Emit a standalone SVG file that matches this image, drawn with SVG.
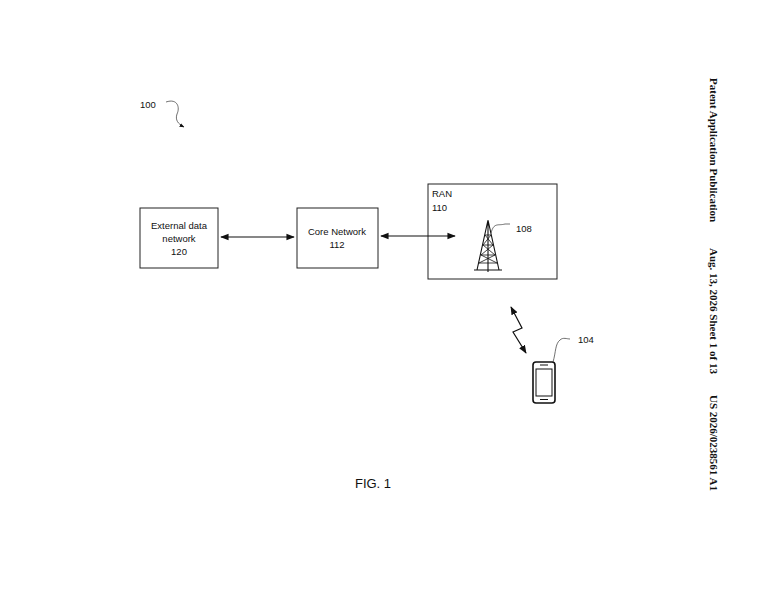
<svg xmlns="http://www.w3.org/2000/svg" width="774" height="600" viewBox="0 0 774 600">
<style>
.b{fill:#fff;stroke:#222;stroke-width:1}
.t{font-family:"Liberation Sans",Arial,sans-serif;font-size:9.5px;fill:#111}
.c{fill:none;stroke:#111;stroke-width:1.2}
.h{font-family:"Liberation Serif","Times New Roman",serif;font-size:11px;font-weight:bold;fill:#111}
.th{fill:none;stroke:#333;stroke-width:0.7}
</style>
<defs>
<marker id="a" viewBox="0 0 10 10" refX="9" refY="5" markerWidth="7" markerHeight="7" orient="auto-start-reverse"><path d="M0,1 L10,5 L0,9 z" fill="#111"/></marker>
</defs>
<rect width="774" height="600" fill="#fff"/>
<g id="label100">
<text class="t" x="140" y="108">100</text>
<path class="th" d="M166,102 C178,98 180,108 177,114 C175,120 178,124 184,127" marker-end="url(#a)"/>
</g>
<g id="ext"><rect class="b" x="140" y="208" width="78" height="60"/>
<text class="t" x="179" y="229" text-anchor="middle">External data</text>
<text class="t" x="179" y="242" text-anchor="middle">network</text>
<text class="t" x="179" y="255" text-anchor="middle">120</text></g>
<g id="core"><rect class="b" x="297" y="208" width="81" height="60"/>
<text class="t" x="337" y="235" text-anchor="middle">Core Network</text>
<text class="t" x="337" y="248" text-anchor="middle">112</text></g>
<g id="ran"><rect class="b" x="428" y="184" width="129" height="95"/>
<text class="t" x="432" y="197">RAN</text>
<text class="t" x="432" y="211">110</text></g>
<g id="tower" stroke="#111" stroke-width="1.1" fill="none">
<path d="M488,220 L488,272 M488,220 L477,270 M488,220 L499,270 M474,270 L502,270"/>
<path d="M485,235 L491,235 M483,245 L493,245 M481,255 L495,255 M479,263 L497,263 M485,235 L493,245 L481,255 L497,263 M491,235 L483,245 L495,255 L479,263" stroke-width="0.8"/>
<path class="th" d="M491,233 C494,222 498,226 505,224 L510,224"/>
<text class="t" x="516" y="232" stroke="none" fill="#111">108</text>
</g>
<g id="phone">
<rect x="533" y="362" width="22" height="41" rx="3" fill="#fff" stroke="#111" stroke-width="1.6"/>
<rect x="536" y="369" width="16" height="27" fill="#fff" stroke="#111" stroke-width="1"/>
<path d="M540,365 L548,365 M540,399.5 L548,399.5" stroke="#111" stroke-width="1"/>
<path class="th" d="M553,362 C556,352 555,344 560,340 C563,337 567,339 570,339"/>
<text class="t" x="578" y="343">104</text>
</g>
<g id="connectors">
<line class="c" x1="221" y1="237" x2="294" y2="237" marker-start="url(#a)" marker-end="url(#a)"/>
<line class="c" x1="381" y1="236" x2="455" y2="236" marker-start="url(#a)" marker-end="url(#a)"/>
<path class="c" d="M511,307 L522,328 L513,332 L526,353" marker-start="url(#a)" marker-end="url(#a)"/>
</g>
<g id="caption"><text x="373" y="488" text-anchor="middle" font-family="Liberation Sans,Arial,sans-serif" font-size="13" fill="#111">FIG. 1</text></g>
<g id="header" transform="translate(710,78) rotate(90)">
<text class="h" x="0" y="0">Patent Application Publication</text>
<text class="h" x="170" y="0">Aug. 13, 2026  Sheet 1 of 13</text>
<text class="h" x="317" y="0">US 2026/0238561 A1</text>
</g>
</svg>
